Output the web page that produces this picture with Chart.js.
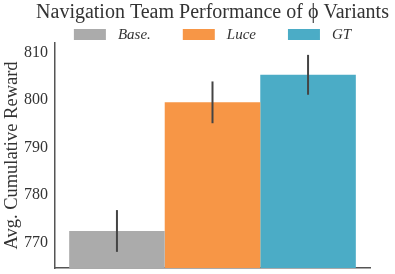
<!DOCTYPE html>
<html>
<head>
<meta charset="utf-8">
<script src="https://cdn.jsdelivr.net/npm/chart.js@4/dist/chart.umd.min.js"></script>
<style>
  html, body { margin: 0; padding: 0; background: #fff; }
  #wrap { width: 395px; height: 274px; }
</style>
</head>
<body>
<div id="wrap"><canvas id="perfChart" width="395" height="274"></canvas></div>
<script>
// ── Data ───────────────────────────────────────────────────────────────
const titleText = 'Navigation Team Performance of \u03d5 Variants';
const variants  = ['Base.', 'Luce', 'GT'];
const means     = [772.4, 799.5, 805.3];
const errors    = [4.4, 4.4, 4.2];
const colors    = ['#ababab', '#f79646', '#4bacc6'];
const yTicks    = [770, 780, 790, 800, 810];

const SERIF = '"Liberation Serif", "DejaVu Serif", serif';

// error bars drawn through the y scale
const errorBars = {
  id: 'errorBars',
  afterDatasetsDraw(chart) {
    const { ctx, scales: { y } } = chart;
    ctx.save();
    ctx.strokeStyle = '#444';
    ctx.lineWidth = 2;
    chart.data.datasets.forEach((ds, i) => {
      const bar = chart.getDatasetMeta(i).data[0];
      const m = ds.data[0], e = errors[i];
      ctx.beginPath();
      ctx.moveTo(bar.x, y.getPixelForValue(m - e));
      ctx.lineTo(bar.x, y.getPixelForValue(m + e));
      ctx.stroke();
    });
    ctx.restore();
  },
};

// title + wide legend row, both centred over the plot area
const header = {
  id: 'header',
  afterDraw(chart) {
    const { ctx, chartArea } = chart;
    const cx = (chartArea.left + chartArea.right) / 2;
    ctx.save();
    ctx.textBaseline = 'middle';

    ctx.font = `20px ${SERIF}`;
    ctx.fillStyle = '#333';
    ctx.textAlign = 'center';
    ctx.fillText(titleText, cx, 13);

    const BOX_W = 32, BOX_H = 11, GAP = 12, ITEM_GAP = 32, CY = 34.5;
    ctx.font = `italic 15px ${SERIF}`;
    ctx.textAlign = 'left';
    const items = chart.data.datasets.map(ds => ({
      label: ds.label, color: ds.backgroundColor, w: ctx.measureText(ds.label).width,
    }));
    const total = items.reduce((s, it) => s + BOX_W + GAP + it.w, 0) + ITEM_GAP * (items.length - 1);
    let x = cx - total / 2;
    items.forEach(it => {
      ctx.fillStyle = it.color;
      ctx.fillRect(x, CY - BOX_H / 2, BOX_W, BOX_H);
      ctx.fillStyle = '#333';
      ctx.fillText(it.label, x + BOX_W + GAP, CY + 1);
      x += BOX_W + GAP + it.w + ITEM_GAP;
    });
    ctx.restore();
  },
};

new Chart(document.getElementById('perfChart'), {
  type: 'bar',
  data: {
    labels: [''],
    datasets: variants.map((v, i) => ({
      label: v,
      data: [means[i]],
      backgroundColor: colors[i],
      borderWidth: 0,
      base: 700,
    })),
  },
  options: {
    responsive: false, animation: false,
    layout: { padding: { left: 0, right: 25, top: 43, bottom: 0 } },
    datasets: { bar: { categoryPercentage: 0.91, barPercentage: 1 } },
    plugins: {
      title: { display: false },
      legend: { display: false },
      tooltip: { enabled: false },
    },
    scales: {
      x: {
        afterFit: s => { s.height = 6; },
        grid: { display: false },
        border: { display: true, color: '#555', width: 1.5 },
        ticks: { display: false },
      },
      y: {
        min: 764.6, max: 812,
        afterFit: s => { s.width = 55; s.paddingTop = 0; s.paddingBottom = 0; },
        afterBuildTicks: s => { s.ticks = yTicks.map(v => ({ value: v })); },
        grid: { display: false, drawTicks: false },
        border: { display: true, color: '#555', width: 1.5 },
        ticks: { color: '#333', padding: 7, font: { family: SERIF, size: 16 } },
        title: {
          display: true, text: 'Avg. Cumulative Reward', color: '#333',
          font: { family: SERIF, size: 18.5 }, padding: { top: 1, bottom: 0 },
        },
      },
    },
  },
  plugins: [errorBars, header],
});
</script>
</body>
</html>
